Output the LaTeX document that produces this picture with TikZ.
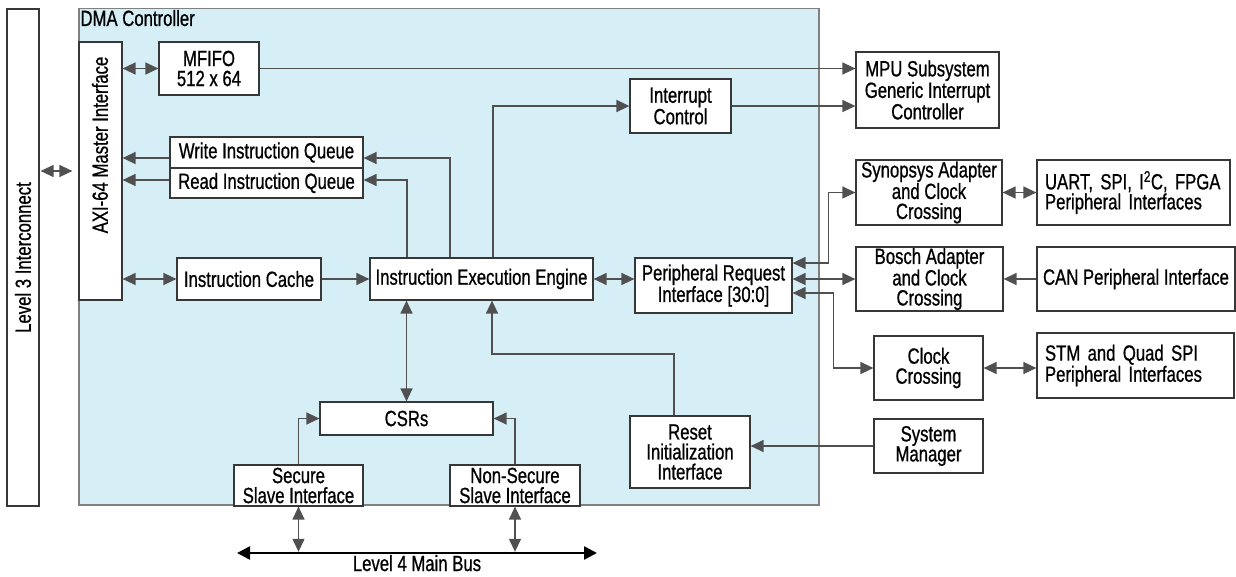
\documentclass[tikz,border=0pt]{standalone}
\usepackage{fontspec}
\setmainfont{Liberation Sans}[FakeStretch=0.76, FakeBold=0.8]
\usepackage{tikz}
\usetikzlibrary{arrows.meta, positioning}
\definecolor{dmablue}{RGB}{214,238,246}
\definecolor{edgegray}{RGB}{55,55,55}
\definecolor{wiregray}{RGB}{80,80,80}

\tikzset{
  blk/.style={draw=edgegray, line width=1.2pt, fill=white, align=center, inner sep=0.5pt},
  wire/.style={draw=wiregray, line width=1.3pt},
  arr/.style={wire, -{Triangle[length=13pt, width=12pt]}},
  biarr/.style={wire, {Triangle[length=13pt, width=12pt]}-{Triangle[length=13pt, width=12pt]}},
  bus/.style={draw=black, line width=2.5pt, {Triangle[length=13pt, width=13pt]}-{Triangle[length=13pt, width=13pt]}}
}

\begin{document}
\begin{tikzpicture}[x=1pt, y=-1pt, font=\fontsize{22}{20}\selectfont]
  \useasboundingbox (0,0) rectangle (1236,576);

  %% Level 3 and the DMA controller frame
  \node[blk, minimum width=32, minimum height=497] (l3) at (23,257.5)
    {\rotatebox{90}{Level 3 Interconnect}};
  \node[draw=gray, line width=1.4pt, fill=dmablue, minimum width=740, minimum height=496.5]
    (dma) at (449,256.75) {};
  \node[anchor=north west, inner sep=2pt] at (dma.north west) {DMA Controller};

  %% Blocks inside the controller
  \node[blk, minimum width=43, minimum height=258] (axi) at (100.5,171) {};
  \node at (100,145) {\rotatebox{90}{AXI-64 Master Interface}};
  \node[blk, minimum width=100, minimum height=53] (mfifo) at (209,68.5) {MFIFO\\512 x 64};
  \node[blk, minimum width=193, minimum height=31] (wiq) at (266.5,152.5) {Write Instruction Queue};
  \node[blk, minimum width=193, minimum height=30] (riq) at (266.5,183) {Read Instruction Queue};
  \node[blk, minimum width=144, minimum height=42] (cache) at (249,279) {Instruction Cache};
  \node[blk, minimum width=223, minimum height=42] (iee) at (481.5,279) {Instruction Execution Engine};
  \node[blk, minimum width=101, minimum height=54] (ic) at (680.5,106) {Interrupt\\Control};
  \node[blk, minimum width=157, minimum height=55] (pri) at (713.5,285.5)
    {Peripheral Request\\Interface [30:0]};
  \node[blk, minimum width=173, minimum height=33] (csr) at (406.5,418.5) {CSRs};
  \node[blk, minimum width=129, minimum height=41] (sec) at (298.5,485.5) {Secure\\Slave Interface};
  \node[blk, minimum width=130, minimum height=41] (nsec) at (515,485.5) {Non-Secure\\Slave Interface};
  \node[blk, minimum width=120, minimum height=72] (rst) at (690,452)
    {Reset\\Initialization\\Interface};

  %% Blocks outside
  \node[blk, minimum width=143, minimum height=76] (mpu) at (927.5,90)
    {MPU Subsystem\\Generic Interrupt\\Controller};
  \node[blk, minimum width=146, minimum height=65] (syn) at (929,192.5)
    {Synopsys Adapter\\and Clock\\Crossing};
  \node[blk, minimum width=193, minimum height=65, text width=177, align=left, inner xsep=8]
    (uart) at (1133.5,192.5) {\mbox{UART, SPI, I\textsuperscript{2}C, FPGA}\\Peripheral Interfaces};
  \node[blk, minimum width=147, minimum height=64] (bosch) at (929.5,279)
    {Bosch Adapter\\and Clock\\Crossing};
  \node[blk, minimum width=198, minimum height=64] (can) at (1136,279) {CAN Peripheral Interface};
  \node[blk, minimum width=109, minimum height=64] (cc) at (928.5,368) {Clock\\Crossing};
  \node[blk, minimum width=197, minimum height=65, text width=181, align=left, inner xsep=8]
    (stm) at (1135.5,365.5) {STM and Quad SPI\\Peripheral Interfaces};
  \node[blk, minimum width=109, minimum height=54] (sm) at (928.5,446) {System\\Manager};

  %% Bus
  \coordinate (busl) at (237,553);
  \coordinate (busr) at (597,553);
  \draw[bus] (busl) -- (busr);
  \node[anchor=base] at (417,571) {Level 4 Main Bus};

  %% Connections on the AXI side
  \draw[biarr] ([xshift=1]l3.east |- axi.west) -- ([xshift=-6]axi.west);
  \draw[biarr] (axi.east |- mfifo.west) -- (mfifo.west);
  \draw[arr] ([yshift=-5.5]wiq.west) -- ([yshift=-5.5]wiq.west -| axi.east);
  \draw[arr] ([yshift=3]riq.west) -- ([yshift=3]riq.west -| axi.east);
  \draw[biarr] (cache.west -| axi.east) -- (cache.west);
  \draw[arr] (cache.east) -- (iee.west);

  %% Engine
  \draw[arr] (iee.north -| 450,0) |- ([yshift=-5.5]wiq.east);
  \draw[arr] (iee.north -| 407,0) |- ([yshift=3]riq.east);
  \draw[arr] (iee.north -| 493,0) |- (ic.west);
  \draw[biarr] (iee.east) -- (iee.east -| pri.west);
  \draw[biarr] (csr.north) -- (csr.north |- iee.south);
  \draw[arr] (sec.north) |- (csr.west);
  \draw[arr] (nsec.north) |- (csr.east);
  \coordinate (rstbend) at (492,354);
  \draw[arr] ([xshift=-16]rst.north) |- (rstbend) -- (rstbend |- iee.south);

  %% To the MPU
  \draw[arr] (mfifo.east) -- (mfifo.east -| mpu.west);
  \draw[arr] (ic.east) -- (ic.east -| mpu.west);

  %% Peripheral side
  \draw[biarr] ([yshift=22.5]pri.east) -| ([xshift=-27]syn.west) -- (syn.west);
  \draw[biarr] (bosch.west -| pri.east) -- (bosch.west);
  \draw[biarr] ([yshift=-7.5]pri.east) -| ([xshift=-40]cc.west) -- (cc.west);
  \draw[biarr] (syn.east) -- (uart.west);
  \draw[arr] (can.west) -- (bosch.east);
  \draw[biarr] (cc.east) -- (cc.east -| stm.west);
  \draw[arr] (sm.west) -- (sm.west -| rst.east);

  %% Slave ports on the bus
  \draw[biarr, shorten >=1.2pt] (sec.south) -- (sec.south |- busl);
  \draw[biarr, shorten >=1.2pt] (nsec.south) -- (nsec.south |- busl);
\end{tikzpicture}
\end{document}
